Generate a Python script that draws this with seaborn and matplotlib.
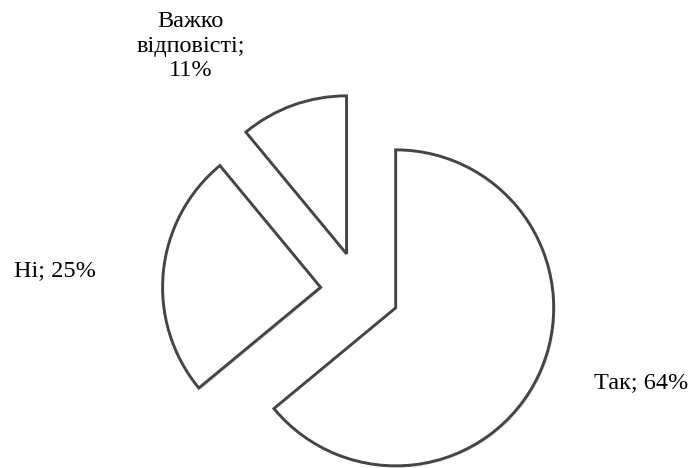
import matplotlib
matplotlib.use("Agg")
import matplotlib.pyplot as plt
import matplotlib.patheffects as pe
import seaborn as sns

categories = ["Так", "Ні", "Важко\nвідповісті"]
values = [64, 25, 11]
separators = ["; ", "; ", ";\n"]
label_pos = [(1.78, -0.58), (-1.93, 0.13), (-1.07, 1.55)]

sns.set_theme(style="white")
plt.rcParams["font.family"] = ["Liberation Serif", "DejaVu Serif"]

fig = plt.figure(figsize=(6.96, 4.68), dpi=100)
ax = fig.add_axes([0, 0, 1, 1])

wedges, _ = ax.pie(
    values,
    startangle=90,
    counterclock=False,
    explode=[0.25] * len(values),
    colors=["white"] * len(values),
    wedgeprops=dict(edgecolor="#454545", linewidth=2.1, joinstyle="miter"),
)
for w in wedges:
    w.set_path_effects([
        pe.SimplePatchShadow(offset=(1.2, -1.2), shadow_rgbFace="#9a9a9a", alpha=0.35),
        pe.Normal(),
    ])

for cat, val, sep, (x, y) in zip(categories, values, separators, label_pos):
    ax.text(x, y, f"{cat}{sep}{val}%", ha="center", va="center",
            fontsize=17.5, color="black", linespacing=1.2)

ax.set_xlim(-2.278, 2.127)
ax.set_ylim(-1.120, 1.842)
ax.set_aspect("auto")
ax.axis("off")
fig.savefig("out.png", dpi=100, facecolor="white")
